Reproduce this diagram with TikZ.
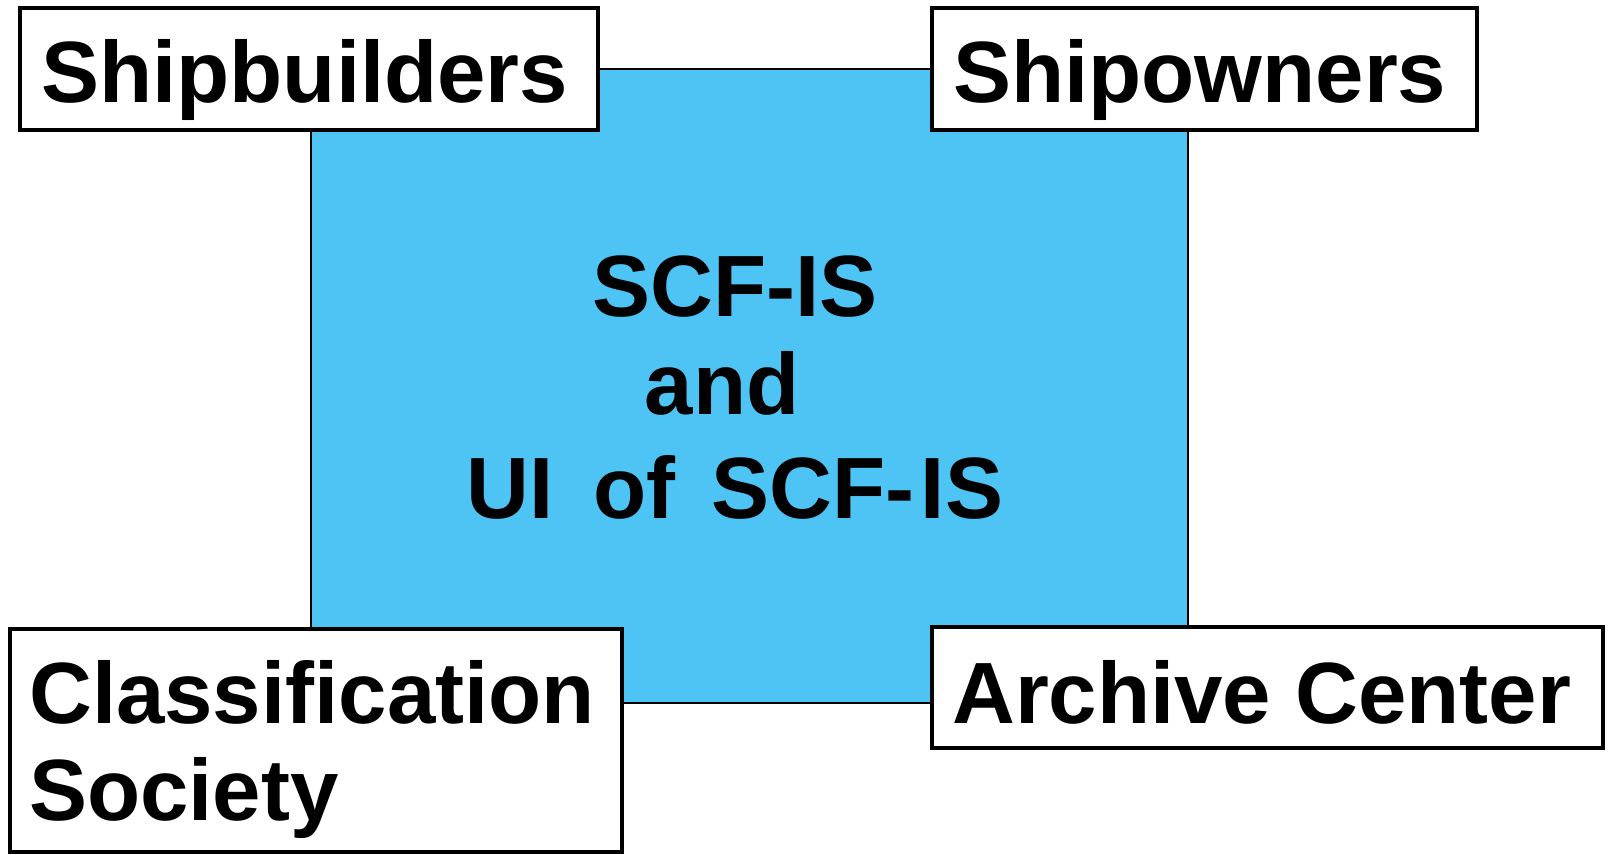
\documentclass[tikz,border=0pt]{standalone}
\usepackage{fontspec}
\setmainfont{Liberation Sans}
\definecolor{skyb}{RGB}{77,196,243}
\begin{document}
\begin{tikzpicture}[x=1pt,y=-1pt,
  lblbox/.style={draw=black, line width=4pt, fill=white},
  big/.style={inner sep=0pt, font=\fontsize{87}{97}\selectfont\bfseries},
  corebox/.style={draw=black, line width=1.3pt, fill=skyb}]
\useasboundingbox (0,0) rectangle (1608,854);
% central block
\path[corebox] (311,69) rectangle (1188,703);
\node[big, anchor=base] (t1) at (735,316) {SCF-IS};
\node[big, anchor=base] (t2) at (722,414) {and};
\node[big, anchor=base] (t3) at (735,518) {UI\hspace{40pt}of\hspace{36pt}SCF-\hspace{6pt}IS};
% label boxes
\path[lblbox] (20,8) rectangle (598,130);
\node[big, anchor=base west] (sb) at (41,102) {Shipbuilders};
\path[lblbox] (932,8) rectangle (1477,130);
\node[big, anchor=base west] (so) at (953,102) {Shipowners};
\path[lblbox] (10,629) rectangle (622,852);
\node[big, anchor=base west] (cs1) at (29,723) {Classification};
\node[big, anchor=base west] (cs2) at (29,820) {Society};
\path[lblbox] (932,627) rectangle (1603,748);
\node[big, anchor=base west] (ac) at (952,723) {Archive Center};
\end{tikzpicture}
\end{document}
